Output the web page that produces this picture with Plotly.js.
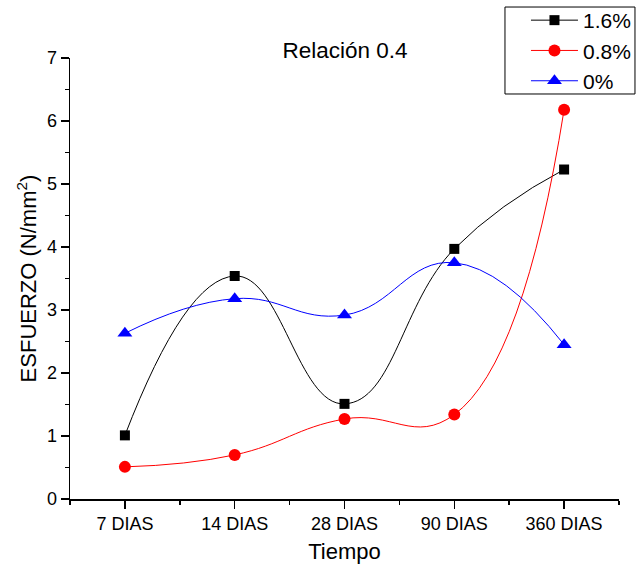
<!DOCTYPE html>
<html>
<head>
<meta charset="utf-8">
<script src="https://cdn.plot.ly/plotly-3.0.1.min.js"></script>
<style>html,body{margin:0;padding:0;background:#fff}#chart{width:636px;height:568px}</style>
</head>
<body>
<div id="chart"></div>
<script>
const categories = ["7 DIAS", "14 DIAS", "28 DIAS", "90 DIAS", "360 DIAS"];
const s16 = [1.01, 3.54, 1.51, 3.97, 5.23];
const s08 = [0.51, 0.70, 1.27, 1.34, 6.18];
const s00 = [2.63, 3.18, 2.92, 3.75, 2.45];
const seriesNames = ["1.6%", "0.8%", "0%"];

const idx = categories.map((_, i) => i);
const font = "Liberation Sans, Arial, sans-serif";

function tr(y, name, color, symbol, size) {
  return {
    x: idx, y: y, name: name, type: "scatter", mode: "lines+markers",
    line: {color: color, width: 1, shape: "spline", smoothing: 1.3},
    marker: {color: color, symbol: symbol, size: size}
  };
}

const data = [
  tr(s16, seriesNames[0], "#000000", "square", 10),
  tr(s08, seriesNames[1], "#ff0000", "circle", 12),
  tr(s00, seriesNames[2], "#0000ff", "triangle-up", 13)
];

const layout = {
  width: 636, height: 568,
  margin: {l: 70, r: 17, t: 58, b: 69, autoexpand: false},
  paper_bgcolor: "#fff", plot_bgcolor: "#fff",
  font: {family: font, color: "#000"},
  showlegend: true,
  title: {text: "Relación 0.4", font: {size: 22.5, family: font, color: "#000"},
          x: 0.5425, xanchor: "center", xref: "container", y: 0.912, yanchor: "middle", yref: "container"},
  xaxis: {
    range: [-0.5, 4.5], tickmode: "array", tickvals: idx, ticktext: categories,
    showgrid: false, zeroline: false, showline: true, linecolor: "#000", linewidth: 1.5,
    ticks: "outside", ticklen: 8, tickwidth: 1.5, tickcolor: "#000",
    tickfont: {size: 18, family: font},
    minor: {tickmode: "linear", tick0: -0.5, dtick: 1, ticks: "outside", ticklen: 4, tickwidth: 1.5, tickcolor: "#000", showgrid: false},
    title: {text: "Tiempo", font: {size: 22, family: font}, standoff: 10}
  },
  yaxis: {
    range: [0, 7], dtick: 1, tick0: 0,
    showgrid: false, zeroline: false, showline: true, linecolor: "#000", linewidth: 1.5,
    ticks: "outside", ticklen: 8, tickwidth: 1.5, tickcolor: "#000",
    tickfont: {size: 18, family: font},
    minor: {dtick: 0.5, ticks: "outside", ticklen: 4, tickwidth: 1.5, tickcolor: "#000", showgrid: false},
    title: {text: "ESFUERZO (N/mm<sup>2</sup>)", font: {size: 22, family: font}, standoff: 4}
  },
  shapes: [{
    type: "rect", xref: "paper", yref: "paper", layer: "above",
    x0: 0.7923, x1: 1.0291, y0: 0.9184, y1: 1.1156,
    line: {color: "#000", width: 1}, fillcolor: "#fff"
  }],
  legend: {
    xref: "container", yref: "container",
    x: 0.827, xanchor: "left", y: 1.0035, yanchor: "top",
    borderwidth: 0, bgcolor: "rgba(0,0,0,0)",
    font: {size: 21, family: font}, tracegroupgap: 0, itemwidth: 47
  }
};

Plotly.newPlot("chart", data, layout, {displayModeBar: false, staticPlot: true});
</script>
</body>
</html>
